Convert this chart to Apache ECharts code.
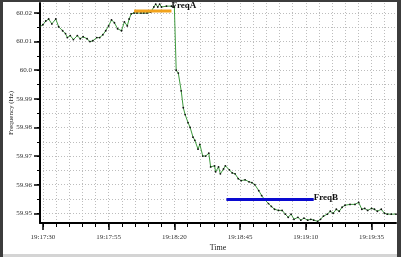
<!DOCTYPE html>
<html><head><meta charset="utf-8">
<script src="https://cdn.jsdelivr.net/npm/echarts@6/dist/echarts.min.js"></script>
<style>html,body{margin:0;padding:0;background:#fff}#c{width:401px;height:257px}</style>
</head><body><div id="c"></div>
<script>
// seconds after 19:17:30
const times = [-1.1,0,1.1,2.2,3.4,4.9,6.0,7.5,8.6,9.3,10.4,11.6,13.1,14.2,15.3,16.8,17.9,19.0,20.5,21.6,22.8,23.9,25.0,26.1,27.2,28.4,29.9,31.0,32.1,32.8,33.6,34.7,35.8,37.3,38.4,39.6,41.0,42.2,42.9,43.7,44.4,45.1,47.0,48.9,50.0,50.7,51.5,52.6,53.4,54.1,55.2,56.0,57.1,57.8,59.0,59.7,60.8,61.9,63.1,63.8,65.3,65.7,66.8,67.5,68.7,69.4,70.9,72.0,73.1,74.3,75.4,76.9,78.4,79.5,80.6,82.1,83.2,84.3,85.8,86.9,88.1,89.6,91.0,92.2,93.3,94.4,95.5,97.0,98.1,99.3,100.7,101.9,103.0,104.5,105.6,106.7,108.2,109.3,110.4,111.6,112.7,113.8,114.9,116.8,118.7,120.1,121.3,122.4,123.5,125.0,126.1,127.2,128.7,129.9,131.0,132.5,134.3];
const freqs = [60.0152,60.0159,60.0172,60.0179,60.0162,60.0179,60.0152,60.0138,60.0128,60.0114,60.0121,60.0107,60.0121,60.0110,60.0117,60.0110,60.0100,60.0103,60.0114,60.0114,60.0124,60.0138,60.0155,60.0176,60.0166,60.0145,60.0138,60.0169,60.0155,60.0179,60.0197,60.0200,60.0200,60.0200,60.0200,60.0200,60.0203,60.0221,60.0231,60.0221,60.0231,60.0221,60.0224,60.0224,60.0221,60.0000,59.9990,59.9928,59.9869,59.9845,59.9817,59.9800,59.9766,59.9755,59.9724,59.9741,59.9700,59.9700,59.9710,59.9662,59.9666,59.9645,59.9662,59.9638,59.9655,59.9666,59.9652,59.9641,59.9638,59.9621,59.9614,59.9617,59.9610,59.9607,59.9600,59.9579,59.9562,59.9548,59.9534,59.9524,59.9514,59.9510,59.9510,59.9497,59.9486,59.9497,59.9479,59.9486,59.9476,59.9483,59.9476,59.9479,59.9476,59.9472,59.9479,59.9490,59.9497,59.9507,59.9500,59.9514,59.9507,59.9521,59.9528,59.9531,59.9531,59.9538,59.9514,59.9517,59.9510,59.9517,59.9514,59.9507,59.9514,59.9500,59.9497,59.9497,59.9497];
const freqATimes = [34.7, 48.9];
const freqAValue = 60.0207;
const freqBTimes = [69.8, 103.0];
const freqBValue = 59.9548;
const xMajorTicks = [0,25,50,75,100,125];
const xMinorTicks = [0,5,10,15,20,25,30,35,40,45,50,55,60,65,70,75,80,85,90,95,100,105,110,115,120,125,130];
const yMajorTicks = [59.95,59.96,59.97,59.98,59.99,60.00,60.01,60.02];
const yAllTicks = [59.95,59.955,59.96,59.965,59.97,59.975,59.98,59.985,59.99,59.995,60.00,60.005,60.01,60.015,60.02];
const baseClock = 19*3600 + 17*60 + 30;

function fmtTime(t){
  const s = Math.round(baseClock + t);
  const h = Math.floor(s/3600), m = Math.floor((s%3600)/60), sec = s%60;
  const p = n => (n<10?'0':'')+n;
  return h + ':' + p(m) + ':' + p(sec);
}
function fmtFreq(v){
  const r = Math.round(v*100)/100;
  return Math.abs(r-60) < 1e-9 ? '60.0' : r.toFixed(2);
}

const X_MIN = -1.1, X_MAX = 134.3, Y_MIN = 59.9466, Y_MAX = 60.0235;
const serif = '"Liberation Serif","DejaVu Serif",serif';
const grid = {dim:'#bdbdbd'};

const chart = echarts.init(document.getElementById('c'), null, {renderer:'canvas'});
chart.setOption({
  animation:false,
  backgroundColor:'#fff',
  grid:{left:34, right:5, top:3, bottom:30, containLabel:false},
  xAxis:[
    {type:'value', min:X_MIN, max:X_MAX, position:'bottom',
     name:'Time', nameLocation:'middle', nameGap:21,
     nameTextStyle:{fontFamily:serif, fontSize:8, color:'#222'},
     axisLine:{show:true, onZero:false, lineStyle:{color:'#000', width:2}},
     axisTick:{show:true, customValues:xMinorTicks, length:4, lineStyle:{color:'#000', width:1}},
     axisLabel:{show:false},
     splitLine:{show:true, lineStyle:{color:grid.dim, type:[1,2], width:1}}},
    {type:'value', min:X_MIN, max:X_MAX, position:'bottom',
     axisLine:{show:false, onZero:false},
     axisTick:{show:true, customValues:xMajorTicks, length:7, lineStyle:{color:'#000', width:1.5}},
     axisLabel:{show:true, customValues:xMajorTicks, formatter:fmtTime, margin:11,
       fontFamily:serif, fontSize:7, color:'#333'},
     splitLine:{show:false}}
  ],
  yAxis:[
    {type:'value', min:Y_MIN, max:Y_MAX, position:'left',
     name:'Frequency (Hz)', nameLocation:'middle', nameGap:25, nameRotate:90,
     nameTextStyle:{fontFamily:serif, fontSize:7, color:'#222'},
     axisLine:{show:true, onZero:false, lineStyle:{color:'#000', width:2}},
     axisTick:{show:true, customValues:yAllTicks, length:3, lineStyle:{color:'#000', width:1}},
     axisLabel:{show:false},
     splitLine:{show:true, lineStyle:{color:grid.dim, type:[1,2], width:1}}},
    {type:'value', min:Y_MIN, max:Y_MAX, position:'left',
     axisLine:{show:false, onZero:false},
     axisTick:{show:true, customValues:yMajorTicks, length:6, lineStyle:{color:'#000', width:1.5}},
     axisLabel:{show:true, customValues:yMajorTicks, formatter:fmtFreq, margin:8,
       fontFamily:serif, fontSize:7, color:'#333'},
     splitLine:{show:false}}
  ],
  series:[
    {type:'line', xAxisIndex:0, yAxisIndex:0,
     data: times.map((t,i)=>[t, freqs[i]]),
     symbol:'circle', symbolSize:1.8, showSymbol:true,
     itemStyle:{color:'#111'},
     lineStyle:{color:'#3f9a3f', width:1}, z:3},
    {type:'line', xAxisIndex:0, yAxisIndex:0,
     data: freqATimes.map(t=>[t, freqAValue]),
     symbol:'none', lineStyle:{color:'#f2a31c', width:3}, z:4,
     endLabel:{show:true, formatter:'FreqA', distance:0, offset:[0,-5],
       fontFamily:serif, fontSize:9, fontWeight:'bold', color:'#111'}},
    {type:'line', xAxisIndex:0, yAxisIndex:0,
     data: freqBTimes.map(t=>[t, freqBValue]),
     symbol:'none', lineStyle:{color:'#0a0ad0', width:3}, z:4,
     endLabel:{show:true, formatter:'FreqB', distance:0, offset:[0,-2],
       fontFamily:serif, fontSize:9, fontWeight:'bold', color:'#111'}}
  ],
  graphic:[
    {type:'rect', shape:{x:0,y:254,width:401,height:3}, style:{fill:'#d4d4d4'}, silent:true, z:100},
    {type:'rect', shape:{x:0,y:0,width:3,height:257}, style:{fill:'#3c3c3c'}, silent:true, z:101},
    {type:'rect', shape:{x:0,y:0,width:401,height:2}, style:{fill:'#3c3c3c'}, silent:true, z:101},
    {type:'rect', shape:{x:397,y:0,width:4,height:257}, style:{fill:'#3c3c3c'}, silent:true, z:101}
  ]
});
</script></body></html>
